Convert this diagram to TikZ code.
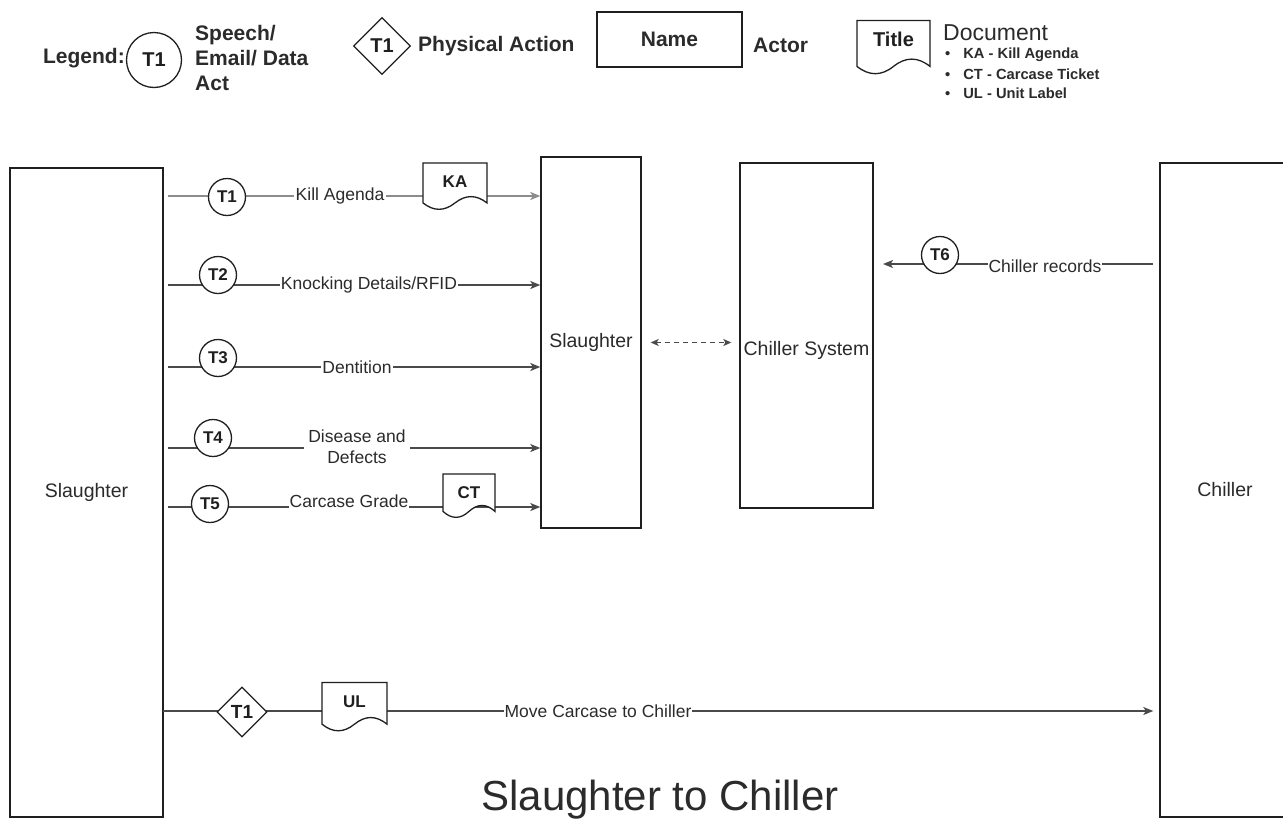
\documentclass[tikz,border=0pt]{standalone}
\usepackage{fontspec}
\setmainfont{Liberation Sans}
\usetikzlibrary{arrows.meta,calc,shapes.geometric}
\definecolor{boxc}{HTML}{1F1F1F}
\definecolor{linec}{HTML}{4A4A4A}
\definecolor{linelt}{HTML}{8C8C8C}
\definecolor{txt}{HTML}{2B2B2B}
\tikzset{
  legf/.style={font=\fontsize{21}{25}\selectfont\bfseries},
  boxf/.style={font=\fontsize{19.5}{23}\selectfont},
  lblf/.style={font=\fontsize{17.5}{21}\selectfont},
  actor/.style={draw=boxc, line width=1.4pt, fill=white, inner sep=0pt},
  act/.style={circle, draw=boxc, line width=1.3pt, fill=white, minimum size=37pt, inner sep=0pt, font=\fontsize{17}{20}\selectfont\bfseries, text=boxc},
  phys/.style={diamond, draw=boxc, line width=1.3pt, fill=white, minimum width=50pt, minimum height=50pt, inner sep=0pt, font=\fontsize{19}{22}\selectfont\bfseries, text=boxc},
  lbl/.style={fill=white, inner sep=2pt, lblf, text=txt},
  flow/.style={draw=linec, line width=1.3pt, -{Stealth[length=10pt,width=8pt,inset=2.5pt]}},
  dasharrow/.style={draw=linec, line width=1.3pt, dash pattern=on 5pt off 4pt, {Stealth[length=8pt,width=7pt,inset=2pt]}-{Stealth[length=8pt,width=7pt,inset=2pt]}},
  docst/.style={draw=boxc, line width=1.3pt, fill=white},
  bul/.style={anchor=west, inner sep=0pt, font=\fontsize{14.7}{18}\selectfont\bfseries, text=txt},
}
% name, cx, cy, width, height, text, font size
\newcommand\docshape[7]{%
  \node[minimum width=#4pt, minimum height=#5pt, inner sep=0pt, outer sep=0pt] (#1) at (#2,#3) {};
  \filldraw[docst] (#1.north west) -- (#1.north east) -- ([yshift=0.15*#5pt]#1.south east)
    .. controls ([xshift=-#4pt/6, yshift=0.33*#5pt]#1.south east) and ([xshift=#4pt/6, yshift=0.33*#5pt]#1.south) .. ([yshift=0.15*#5pt]#1.south)
    .. controls ([xshift=-#4pt/6, yshift=-0.03*#5pt]#1.south) and ([xshift=#4pt/6, yshift=-0.03*#5pt]#1.south west) .. ([yshift=0.15*#5pt]#1.south west) -- cycle;
  \node[inner sep=0pt, font=\fontsize{#7}{#7}\selectfont\bfseries, text=boxc] (#1t) at ([yshift=-19pt]#1.north) {#6};
}
\begin{document}
\begin{tikzpicture}[x=1pt,y=-1pt, every node/.style={text=txt}]
\useasboundingbox[fill=white] (0,0) rectangle (1283,825);

% ---------- legend ----------
\node[legf, anchor=east, inner sep=0pt] (leg) at (125,58) {Legend:};
\node[act, minimum size=55pt, font=\fontsize{20}{24}\selectfont\bfseries] (lc) at (154,60) {T1};
\node[legf, anchor=west, align=left, inner sep=0pt] (lct) at (195,58) {Speech/\\Email/ Data\\Act};
\node[phys, minimum width=57pt, minimum height=57pt, font=\fontsize{20}{24}\selectfont\bfseries] (ld) at (382,46) {T1};
\node[legf, anchor=west, inner sep=0pt] (ldt) at (418,46) {Physical Action};
\node[actor, minimum width=145pt, minimum height=55pt, legf] (lname) at (669.5,39.5) {Name};
\node[legf, anchor=west, inner sep=0pt] (lact) at (753,45) {Actor};
\docshape{ltitle}{893.5}{47.5}{73}{54}{Title}{20}
\node[anchor=west, inner sep=0pt, font=\fontsize{23}{27}\selectfont] (ldoc) at (943,33) {Document};
\node[bul] (b1) at (945,55) {\textbullet\hskip 13pt KA - Kill Agenda};
\node[bul] (b2) at (945,74) {\textbullet\hskip 13pt CT - Carcase Ticket};
\node[bul] (b3) at (945,93) {\textbullet\hskip 13pt UL - Unit Label};

% ---------- actors ----------
\node[actor, minimum width=153pt, minimum height=649pt, boxf] (sl) at (86.5,492.5) {Slaughter};
\node[actor, minimum width=100pt, minimum height=371pt, boxf] (mid) at (591,342.5) {Slaughter};
\node[actor, minimum width=133pt, minimum height=345pt] (cs) at (806.5,335.5) {};
\node[boxf, inner sep=0pt] (cst) at (806.5,350) {Chiller System};
\node[actor, minimum width=130pt, minimum height=654pt, boxf] (ch) at (1225,490) {Chiller};

% ---------- flows to Slaughter system ----------
\coordinate (r1) at (168,196);
\coordinate (r2) at (168,285);
\coordinate (r3) at (168,367);
\coordinate (r4) at (168,448);
\coordinate (r5) at (168,507);
\draw[flow, draw=linelt] (r1) -- (r1 -| mid.west);
\draw[flow] (r2) -- (r2 -| mid.west);
\draw[flow] (r3) -- (r3 -| mid.west);
\draw[flow] (r4) -- (r4 -| mid.west);
\draw[flow] (r5) -- (r5 -| mid.west);

\node[act] (t1) at (227,197) {T1};
\node[act] (t2) at (218,275) {T2};
\node[act] (t3) at (218,358) {T3};
\node[act] (t4) at (213,438) {T4};
\node[act] (t5) at (210,504) {T5};

\node[lbl] (l1) at (340,196) {Kill Agenda};
\node[lbl, inner sep=1pt] (l2) at (369,285) {Knocking Details/RFID};
\node[lbl, inner sep=1pt] (l3) at (357,367) {Dentition};
\node[lbl, align=center, inner sep=4pt, font=\fontsize{17.5}{21}\selectfont] (l4) at (357,447) {Disease and\\Defects};
\node[lbl, inner sep=1pt] (l5) at (349,501) {Carcase Grade};

\docshape{ka}{455}{186.5}{64}{47}{KA}{17}
\docshape{ct}{469}{496}{52}{44}{CT}{17}

% ---------- dashed link ----------
\draw[dasharrow] ([xshift=9pt]mid.east) -- ([xshift=-8pt]cs.west |- mid.east);

% ---------- chiller records ----------
\coordinate (r6s) at (1153,264);
\coordinate (r6e) at (883,264);
\draw[flow] (r6s) -- (r6e);
\node[act] (t6) at (940,255) {T6};
\node[lbl, inner sep=1pt] (l6) at (1045,266) {Chiller records};

% ---------- physical move ----------
\coordinate (r7) at (163,711);
\draw[flow] (r7) -- ([xshift=-6pt]r7 -| ch.west);
\node[phys] (p1) at (242,712) {T1};
\docshape{ul}{354.5}{707}{65}{49}{UL}{17}
\node[lbl, inner sep=1pt] (l7) at (598,711) {Move Carcase to Chiller};

% ---------- title ----------
\node[font=\fontsize{42}{50}\selectfont, text=txt] (title) at (660,800) {Slaughter to Chiller};
\end{tikzpicture}
\end{document}
